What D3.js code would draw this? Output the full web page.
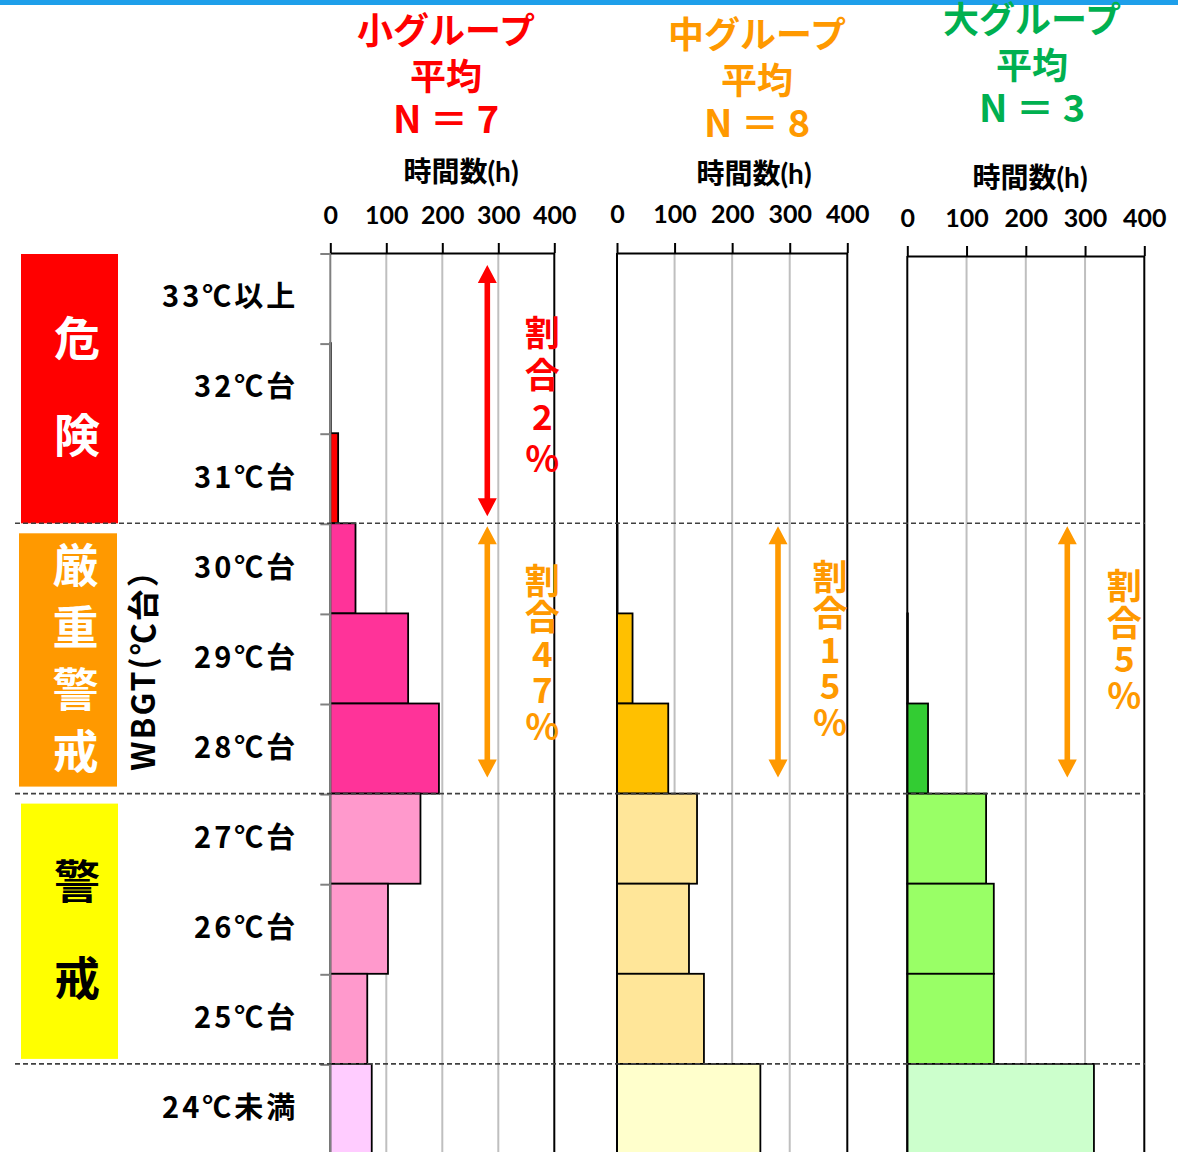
<!DOCTYPE html>
<html>
<head>
<meta charset="utf-8">
<script src="https://cdn.jsdelivr.net/npm/d3@7"></script>
<style>
  html, body { margin: 0; padding: 0; background: #fff; }
  svg { display: block; }
</style>
</head>
<body>
<svg id="chart" width="1178" height="1152"></svg>
<script>
// ---- data ----
const rows = ["33℃以上", "32℃台", "31℃台", "30℃台", "29℃台", "28℃台", "27℃台", "26℃台", "25℃台", "24℃未満"];
const hoursSmall  = [0, 1, 14, 45, 139, 194, 161, 103, 66, 74];
const hoursMedium = [0, 0, 0, 1, 27, 89, 139, 125, 151, 249];
const hoursLarge  = [0, 0, 0, 0, 1, 35, 133, 146, 146, 315];
const groupNames = ["小グループ", "中グループ", "大グループ"];
const groupN = [7, 8, 3];
const hourTicks = [0, 100, 200, 300, 400];
const zoneNames = ["危険", "厳重警戒", "警戒"];
const zoneRows = [[0, 2], [3, 5], [6, 8]];
const axisTitle = "時間数(h)";
const yTitle = "WBGT(℃台）";

// ---- styling ----
const CJK = "'Noto Sans CJK JP', sans-serif";
const LATIN = "Lato, 'Noto Sans CJK JP', sans-serif";
const groupColors = ["#FF0000", "#FF9900", "#00B050"];
const tierFills = [
  ["#FF0000", "#FF3399", "#FF99CC", "#FFCCFF"],
  ["#FFC000", "#FFC000", "#FFE699", "#FFFFCC"],
  ["#33CC33", "#33CC33", "#99FF66", "#CCFFCC"]
];
const zoneFill = ["#FF0000", "#FF9900", "#FFFF00"];
const zoneInk = ["#FFFFFF", "#FFFFFF", "#000000"];
const ratioColors = ["#FF0000", "#FF9900"];

const layout = [
  { x0: 330.3, x1: 554.3, top: 253, cx: 446, titleBase: [44, 90, 133], axisTitleX: 461, axisTitleBase: 182, tickPad: 19, leftAxis: "#808080", arrowDx: 157, textDx: 212, textDy: [5, -7] },
  { x0: 617,   x1: 847.3, top: 253, cx: 757, titleBase: [48, 94, 137], axisTitleX: 754, axisTitleBase: 184, tickPad: 20, leftAxis: "#000000", arrowDx: 161, textDx: 213, textDy: [0, -11] },
  { x0: 907.3, x1: 1144.3, top: 256, cx: 1032, titleBase: [33, 79, 122], axisTitleX: 1030, axisTitleBase: 188, tickPad: 19, leftAxis: "#000000", arrowDx: 160, textDx: 217, textDy: [0, -20] }
];
const groupHours = [hoursSmall, hoursMedium, hoursLarge];

const svg = d3.select("#chart");
const W = 1178;

// top ribbon
svg.append("rect").attr("x", 0).attr("y", 0).attr("width", W).attr("height", 5).attr("fill", "#1E9FEA");

const y = d3.scaleBand().domain(rows).range([253, 1154]).paddingInner(0).paddingOuter(0);
const yBottom = y.range()[1];
const tierOf = i => (i <= 2 ? 0 : i <= 5 ? 1 : i <= 8 ? 2 : 3);

// ---- zone bands on the left ----
const zoneInsets = [[1, 0], [10, 7], [10, 5]];
zoneNames.forEach((name, z) => {
  const [a, b] = zoneRows[z];
  const top = y(rows[a]) + zoneInsets[z][0];
  const bot = y(rows[b]) + y.bandwidth() - zoneInsets[z][1];
  const xL = z === 1 ? 19 : 21, xR = z === 1 ? 117 : 118;
  svg.append("rect").attr("x", xL).attr("y", top).attr("width", xR - xL).attr("height", bot - top)
    .attr("fill", zoneFill[z]);
  const chars = name.split("");
  const step = chars.length === 2 ? 97 : 62;
  const mid = (top + bot) / 2 - 5;
  const cxz = (xL + xR) / 2 + 7.5;
  chars.forEach((c, k) => {
    svg.append("text")
      .attr("x", cxz)
      .attr("y", mid + (k - (chars.length - 1) / 2) * step)
      .attr("text-anchor", "middle").attr("dominant-baseline", "central")
      .attr("font-family", CJK).attr("font-weight", 700).attr("font-size", 46)
      .attr("fill", zoneInk[z]).text(c);
  });
});

// y axis title
svg.append("text")
  .attr("transform", "translate(141,662) rotate(-90)")
  .attr("text-anchor", "middle").attr("dominant-baseline", "central")
  .attr("font-family", CJK).attr("font-weight", 700).attr("font-size", 32)
  .attr("letter-spacing", 2)
  .attr("fill", "#000").text(yTitle);

// ---- three panels ----
groupHours.forEach((vals, p) => {
  const L = layout[p];
  const x = d3.scaleLinear().domain([0, 400]).range([L.x0, L.x1]);
  const g = svg.append("g");

  // titles
  const titleLines = [groupNames[p], "平均", `N ＝ ${groupN[p]}`];
  titleLines.forEach((t, k) => {
    g.append("text").attr("x", L.cx).attr("y", L.titleBase[k])
      .attr("text-anchor", "middle")
      .attr("font-family", CJK).attr("font-weight", 700)
      .attr("font-size", k === 2 ? 38 : 36)
      .attr("fill", groupColors[p]).text(t);
  });

  // axis title
  g.append("text").attr("x", L.axisTitleX).attr("y", L.axisTitleBase)
    .attr("text-anchor", "middle")
    .attr("font-family", LATIN).attr("font-weight", 700).attr("font-size", 28)
    .attr("fill", "#000").text(axisTitle);

  // vertical gridlines
  g.selectAll("line.grid").data(hourTicks.slice(1)).join("line")
    .attr("class", "grid")
    .attr("x1", d => x(d)).attr("x2", d => x(d))
    .attr("y1", L.top).attr("y2", yBottom)
    .attr("stroke", d => (d === 400 ? "#000" : "#BFBFBF"))
    .attr("stroke-width", 2);

  // bars
  const barData = vals.map((v, i) => ({ row: rows[i], v, tier: tierOf(i) })).filter(d => d.v > 0);
  g.selectAll("rect.bar").data(barData).join("rect")
    .attr("class", "bar")
    .attr("x", x(0))
    .attr("y", d => y(d.row))
    .attr("width", d => x(d.v) - x(0))
    .attr("height", y.bandwidth())
    .attr("fill", d => tierFills[p][d.tier])
    .attr("stroke", "#000").attr("stroke-width", 1.8);

  // left axis line
  g.append("line").attr("x1", x(0)).attr("x2", x(0)).attr("y1", L.top).attr("y2", yBottom)
    .attr("stroke", L.leftAxis).attr("stroke-width", 2);

  // top axis
  const ax = d3.axisTop(x).tickValues(hourTicks).tickSize(10).tickSizeOuter(0).tickPadding(L.tickPad);
  const axG = g.append("g").attr("transform", `translate(0,${L.top})`).call(ax);
  axG.select(".domain").attr("stroke", "#000").attr("stroke-width", 2);
  axG.selectAll(".tick line").attr("stroke", "#000").attr("stroke-width", 2);
  axG.selectAll(".tick text")
    .attr("font-family", LATIN).attr("font-weight", 700).attr("font-size", 25).attr("fill", "#000");

  if (p === 0) {
    // category boundary ticks and row labels
    g.selectAll("line.rtick").data(rows).join("line")
      .attr("class", "rtick")
      .attr("x1", x(0) - 10).attr("x2", x(0))
      .attr("y1", d => y(d) + 1).attr("y2", d => y(d) + 1)
      .attr("stroke", "#808080").attr("stroke-width", 2);
    const ly = d3.axisLeft(y).tickSize(0).tickPadding(32);
    const lyG = g.append("g").attr("transform", `translate(${x(0)},0)`).call(ly);
    lyG.select(".domain").remove();
    lyG.selectAll(".tick text")
      .attr("font-family", CJK).attr("font-weight", 700).attr("font-size", 29)
      .attr("letter-spacing", 3).attr("fill", "#000");
  }
});

// ---- dashed zone dividers ----
const dividers = [rows[3], rows[6], rows[9]].map(r => y(r));
svg.selectAll("line.div").data(dividers).join("line")
  .attr("class", "div")
  .attr("x1", 15).attr("x2", 1145)
  .attr("y1", d => d).attr("y2", d => d)
  .attr("stroke", "#404040").attr("stroke-width", 1.6).attr("stroke-dasharray", "5,3");

// ---- share arrows and labels ----
function arrowPath(cx, y0, y1) {
  const hw = 9.5, hh = 18, sw = 2.8;
  return `M${cx},${y0} L${cx + hw},${y0 + hh} L${cx + sw},${y0 + hh} L${cx + sw},${y1 - hh} ` +
         `L${cx + hw},${y1 - hh} L${cx},${y1} L${cx - hw},${y1 - hh} L${cx - sw},${y1 - hh} ` +
         `L${cx - sw},${y0 + hh} L${cx - hw},${y0 + hh} Z`;
}
const arrowPads = [[12, 7], [3, 16]];
const ratioStep = [42, 36.5];

groupHours.forEach((vals, p) => {
  const L = layout[p];
  const total = d3.sum(vals);
  [0, 1].forEach(z => {
    const [a, b] = zoneRows[z];
    const share = d3.sum(vals.slice(a, b + 1)) / total * 100;
    const pct = Math.round(share);
    if (pct <= 0) return;
    const top = y(rows[a]), bot = y(rows[b]) + y.bandwidth();
    svg.append("path")
      .attr("d", arrowPath(L.x0 + L.arrowDx, top + arrowPads[z][0], bot - arrowPads[z][1]))
      .attr("fill", ratioColors[z]);
    const chars = ["割", "合", ...String(pct).split(""), "％"];
    const mid = (top + bot) / 2 + L.textDy[z];
    chars.forEach((c, k) => {
      svg.append("text")
        .attr("x", L.x0 + L.textDx)
        .attr("y", mid + (k - (chars.length - 1) / 2) * ratioStep[z])
        .attr("text-anchor", "middle").attr("dominant-baseline", "central")
        .attr("font-family", CJK).attr("font-weight", 700).attr("font-size", 35)
        .attr("fill", ratioColors[z]).text(c);
    });
  });
});
</script>
</body>
</html>
